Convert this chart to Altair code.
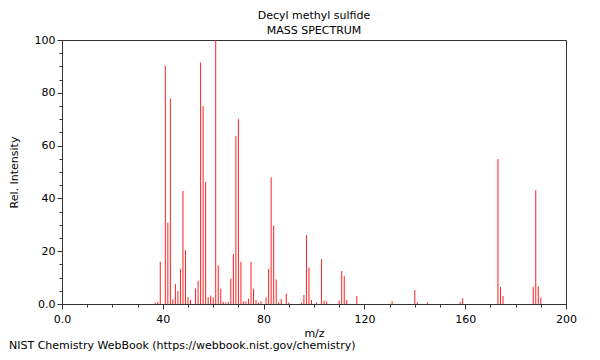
import altair as alt
import pandas as pd

# m/z values and relative intensities
mz = [37, 38, 39, 41, 42, 43, 44, 45, 46, 47, 48, 49, 50, 51, 53, 54, 55, 56, 57, 58,
      59, 60, 61, 62, 63, 64, 65, 66, 67, 68, 69, 70, 71, 72, 73, 74, 75, 76, 77, 78,
      79, 81, 82, 83, 84, 85, 86, 87, 89, 90, 95, 96, 97, 98, 99, 101, 103, 104, 105,
      110, 111, 112, 113, 117, 131, 140, 141, 145, 158, 159, 173, 174, 175, 187, 188,
      189, 190]
intensity = [0.5, 0.8, 16.0, 90.2, 30.8, 77.9, 1.8, 7.6, 4.9, 13.3, 42.8, 20.4, 2.6,
             1.5, 5.9, 8.8, 91.5, 75.0, 46.2, 2.6, 3.2, 2.5, 100.0, 14.6, 5.8, 0.8,
             0.6, 0.8, 9.6, 19.0, 63.6, 70.0, 16.0, 1.0, 1.0, 2.0, 16.0, 5.8, 1.5,
             0.6, 1.0, 2.5, 13.3, 48.0, 29.7, 9.3, 0.6, 1.9, 3.9, 0.6, 0.5, 3.4, 26.1,
             13.8, 1.5, 0.5, 17.0, 1.3, 1.0, 1.3, 12.5, 10.6, 1.5, 3.0, 1.1, 5.3,
             0.6, 0.6, 0.8, 2.2, 54.9, 6.4, 3.0, 6.6, 43.1, 6.6, 2.4]

x_major = [0, 40, 80, 120, 160, 200]
x_minor = list(range(0, 201, 10))
y_major = [0, 20, 40, 60, 80, 100]
y_minor = list(range(0, 101, 5))

title_text = "Decyl methyl sulfide"
subtitle_text = "MASS SPECTRUM"
footer_text = "NIST Chemistry WebBook (https://webbook.nist.gov/chemistry)"

df = pd.DataFrame({"mz": mz, "intensity": intensity, "zero": [0] * len(mz)})

W, H = 504, 264
FONT = "DejaVu Sans"

xscale = alt.Scale(domain=[0, 200], nice=False, zero=False)
yscale = alt.Scale(domain=[0, 100], nice=False)

label_expr = "datum.value == 0 ? '0.0' : datum.label"

peaks = alt.Chart(df).mark_rule(color="#ff2020", strokeWidth=1).encode(
    x=alt.X("mz:Q", scale=xscale,
            axis=alt.Axis(values=x_major, title="m/z", labelExpr=label_expr,
                          tickSize=5, labelPadding=4, titlePadding=3,
                          labelFlush=False, grid=False, orient="bottom")),
    y=alt.Y("intensity:Q", scale=yscale,
            axis=alt.Axis(values=y_major, title="Rel. Intensity", labelExpr=label_expr,
                          tickSize=5, labelPadding=2, titlePadding=15,
                          labelFlush=False, grid=False, orient="left")),
    y2="zero:Q",
)

minor = alt.Chart(df).mark_rule(opacity=0).encode(
    x=alt.X("mz:Q", scale=xscale,
            axis=alt.Axis(values=x_minor, labels=False, title=None, tickSize=3,
                          domain=False, grid=False, orient="bottom")),
    y=alt.Y("intensity:Q", scale=yscale,
            axis=alt.Axis(values=y_minor, labels=False, title=None, tickSize=3,
                          domain=False, grid=False, orient="left")),
)

footer = alt.Chart(pd.DataFrame({"t": [footer_text]})).mark_text(
    align="left", baseline="alphabetic", font=FONT, fontSize=11, color="#000"
).encode(x=alt.value(-53), y=alt.value(H + 45), text="t:N")

chart = alt.layer(peaks, minor, footer).resolve_axis(
    x="independent", y="independent"
).properties(
    width=W, height=H,
    title=alt.TitleParams(text=title_text, subtitle=subtitle_text, anchor="middle",
                          fontSize=11, subtitleFontSize=11, font=FONT, subtitleFont=FONT,
                          fontWeight="normal", color="#000", subtitleColor="#000",
                          offset=-2, subtitlePadding=4),
    padding={"left": 54, "top": 32, "right": 26, "bottom": 48},
    autosize=alt.AutoSizeParams(type="none"),
).configure_view(stroke="#333", strokeWidth=1).configure_axis(
    labelFont=FONT, titleFont=FONT, labelFontSize=11, titleFontSize=11,
    titleFontWeight="normal", labelColor="#000", titleColor="#000",
    domainColor="#333", tickColor="#333",
)

chart.save("out.html", embed_options={"renderer": "svg", "actions": False})
